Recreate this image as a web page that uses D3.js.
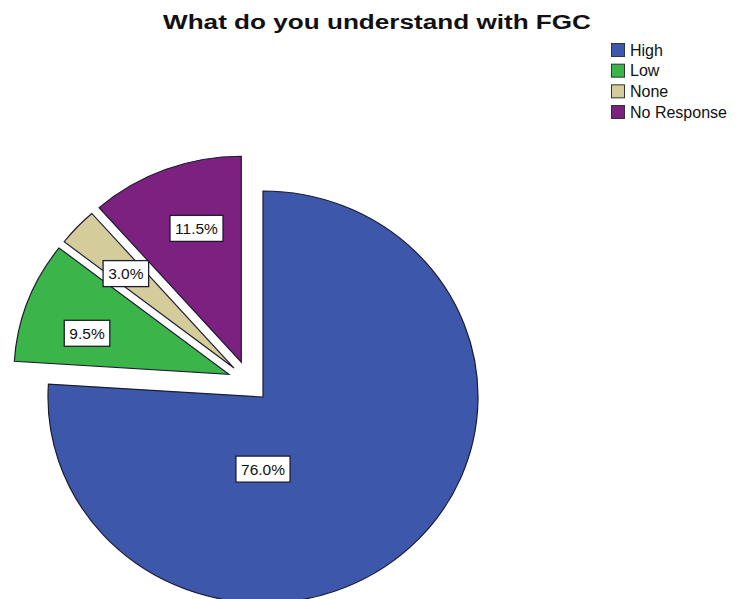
<!DOCTYPE html>
<html>
<head>
<meta charset="utf-8">
<script src="https://cdn.jsdelivr.net/npm/d3@7"></script>
<style>
  html, body { margin: 0; padding: 0; background: #ffffff; }
  svg { display: block; }
  text { font-family: "Liberation Sans", Arial, sans-serif; }
</style>
</head>
<body>
<svg id="chart" width="735" height="599"></svg>
<script>
// Survey answers and their shares (percent)
const categories = ["High", "Low", "None", "No Response"];
const percents = [76.0, 9.5, 3.0, 11.5];
const explodedCats = ["Low", "None", "No Response"];
const colors = ["#3d58aa", "#3bb44a", "#d4cc9b", "#7c2180"];
const titleText = "What do you understand with FGC";

const W = 735, H = 599;
const svg = d3.select("#chart");

// Pie geometry (slightly flattened vertically)
const cx = 263, cy = 397;
const rx = 215, ry = 206;
const explodeDist = 41;

const data = categories.map((c, i) => ({ cat: c, value: percents[i], color: colors[i] }));

const pie = d3.pie()
  .sort(null)
  .value(d => d.value)
  .startAngle(0)
  .endAngle(2 * Math.PI);

const arcs = pie(data);
const arc = d3.arc().innerRadius(0).outerRadius(rx);

// Direction shared by the pulled-out group of slices
const exArcs = arcs.filter(a => explodedCats.includes(a.data.cat));
const groupMid = (d3.min(exArcs, a => a.startAngle) + d3.max(exArcs, a => a.endAngle)) / 2;

function offsetOf(a) {
  if (!explodedCats.includes(a.data.cat)) return [0, 0];
  const mid = (a.startAngle + a.endAngle) / 2;
  const dir = (mid + groupMid) / 2;
  return [Math.sin(dir) * explodeDist, -Math.cos(dir) * explodeDist];
}

const slices = svg.append("g").attr("class", "slices");
arcs.forEach(a => {
  const [dx, dy] = offsetOf(a);
  slices.append("g")
    .attr("transform", `translate(${cx + dx},${cy + dy}) scale(1,${ry / rx})`)
    .append("path")
    .attr("d", arc(a))
    .attr("fill", a.data.color)
    .attr("stroke", "#1c1c30")
    .attr("stroke-width", 1.2)
    .attr("stroke-linejoin", "miter");
});

// Percentage labels in white boxes
const labels = svg.append("g").attr("class", "labels");
arcs.forEach(a => {
  const span = a.endAngle - a.startAngle;
  let lx, ly;
  if (span > Math.PI) {
    lx = cx;
    ly = cy + ry * 0.35;
  } else {
    const mid = (a.startAngle + a.endAngle) / 2;
    lx = cx + Math.sin(mid) * rx * 0.875;
    ly = cy - Math.cos(mid) * ry * 0.875;
  }
  const g = labels.append("g").attr("transform", `translate(${lx},${ly})`);
  const rect = g.append("rect");
  const t = g.append("text")
    .attr("text-anchor", "middle")
    .attr("dominant-baseline", "central")
    .attr("font-size", 15.5)
    .attr("fill", "#111")
    .text(d3.format(".1f")(a.data.value) + "%");
  const bb = t.node().getBBox();
  const padX = 5, h = 26;
  rect.attr("x", -bb.width / 2 - padX)
    .attr("y", -h / 2)
    .attr("width", bb.width + 2 * padX)
    .attr("height", h)
    .attr("fill", "#ffffff")
    .attr("stroke", "#1c1c30")
    .attr("stroke-width", 1.3);
});

// Title
svg.append("text")
  .attr("x", 377)
  .attr("y", 29)
  .attr("text-anchor", "middle")
  .attr("font-size", 20)
  .attr("font-weight", "bold")
  .attr("fill", "#111")
  .attr("textLength", 428)
  .attr("lengthAdjust", "spacingAndGlyphs")
  .text(titleText);

// Legend
const legend = svg.append("g").attr("class", "legend");
const legY = d3.scalePoint().domain(categories).range([50, 112]);
categories.forEach((c, i) => {
  const y = legY(c);
  legend.append("rect")
    .attr("x", 611.5)
    .attr("y", y - 6.5)
    .attr("width", 13)
    .attr("height", 13)
    .attr("fill", colors[i])
    .attr("stroke", "#333")
    .attr("stroke-width", 1);
  legend.append("text")
    .attr("x", 630)
    .attr("y", y)
    .attr("dominant-baseline", "central")
    .attr("font-size", 16)
    .attr("fill", "#111")
    .text(c);
});
</script>
</body>
</html>
